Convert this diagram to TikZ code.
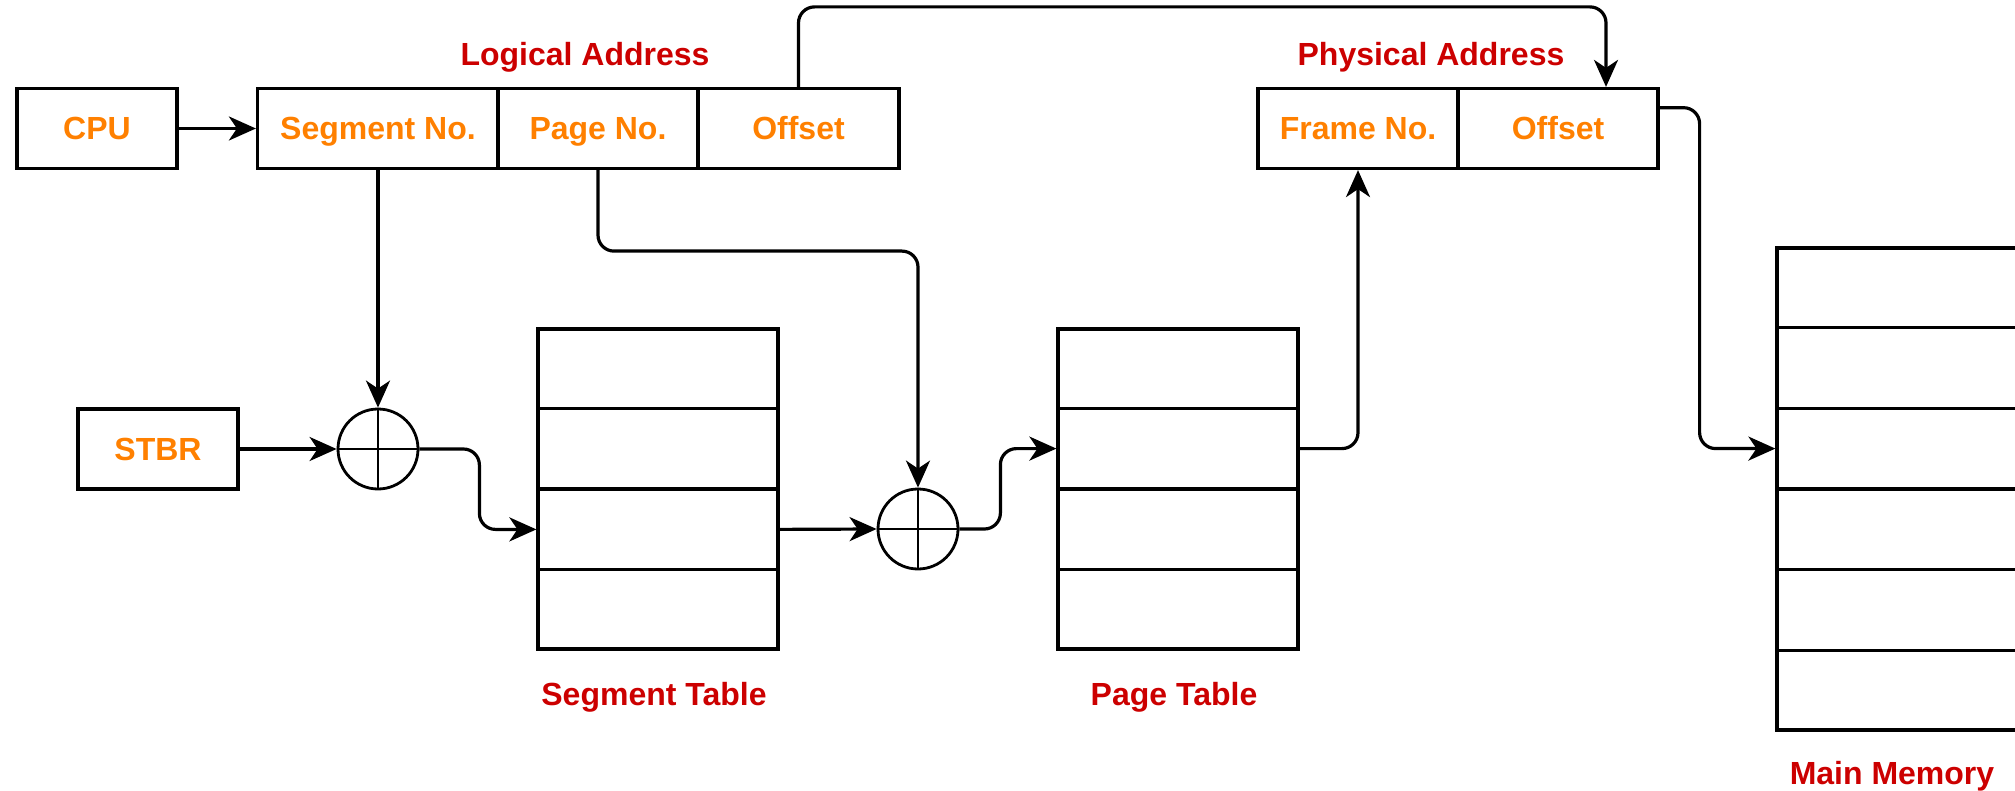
\documentclass[tikz,border=0pt]{standalone}
\usepackage{fontspec}
\setmainfont{Liberation Sans}
\usetikzlibrary{calc,arrows.meta}
\definecolor{lblorange}{HTML}{FF8000}
\definecolor{lblred}{HTML}{CC0000}
\begin{document}
\begin{tikzpicture}[x=1pt,y=-1pt,
  txt/.style={font=\bfseries\fontsize{32}{38}\selectfont, text height=28pt, text depth=5pt},
  field/.style={draw, line width=3.2pt, inner sep=0pt, minimum height=80pt, txt, text=lblorange},
  table/.style={draw, line width=3.2pt, inner sep=0pt, minimum width=240pt},
  adder/.style={draw, circle, line width=2.8pt, minimum size=80pt, inner sep=0pt},
  caption/.style={txt, text=lblred},
  conn/.style={line width=3.2pt, rounded corners=16pt, -{Stealth[length=27pt,width=24pt,inset=8pt]}}
]
\clip (0,0) rectangle (2015,791);

% address fields
\node[field, minimum width=160pt] (cpu) at (97,128.5) {CPU};
\node[field, minimum width=241pt] (seg) at (378,128.5) {Segment No.};
\node[field, minimum width=200pt] (pg) at (598,128.5) {Page No.};
\node[field, minimum width=201pt] (off) at (798.5,128.5) {Offset};
\node[caption] (la) at (585,54) {Logical Address};

\node[field, minimum width=200pt] (frame) at (1358,128.5) {Frame No.};
\node[field, minimum width=200pt] (poff) at (1558,128.5) {Offset};
\node[caption] (pa) at (1431,54) {Physical Address};

\node[field, minimum width=160pt] (stbr) at (158,449) {STBR};

% adders
\node[adder] (add1) at (378,449) {};
\node[adder] (add2) at (918,529) {};
\foreach \a in {add1,add2}{
  \draw[line width=2.6pt] (\a.north) -- (\a.south);
  \draw[line width=2.6pt] (\a.west) -- (\a.east);
}

% tables
\node[table, minimum height=320pt] (segtab) at (658,489) {};
\node[table, minimum height=320pt] (pagetab) at (1178,489) {};
\node[table, minimum height=482pt] (mem) at (1897,489) {};
\foreach \t in {segtab,pagetab}{
  \foreach \i in {1,2,3}{
    \draw[line width=3.2pt] ($(\t.north west)!\i/4!(\t.south west)$) -- ($(\t.north east)!\i/4!(\t.south east)$);
  }
}
\foreach \i in {1,...,5}{
  \draw[line width=3.2pt] ($(mem.north west)!\i/6!(mem.south west)$) -- ($(mem.north east)!\i/6!(mem.south east)$);
}
\node[caption] (segcap) at (654,694) {Segment Table};
\node[caption] (pgcap) at (1174,694) {Page Table};
\node[caption] (memcap) at (1892,773) {Main Memory};

% connector end points on table rows and fields
\coordinate (segin) at ($(segtab.north west)!0.625!(segtab.south west)$);
\coordinate (segout) at ($(segtab.north east)!0.625!(segtab.south east)$);
\coordinate (ptin) at ($(pagetab.north west)!0.375!(pagetab.south west)$);
\coordinate (ptout) at ($(pagetab.north east)!0.375!(pagetab.south east)$);
\coordinate (memin) at ($(mem.north west)!0.4167!(mem.south west)$);
\coordinate (poffin) at ($(poff.north)+(48,0)$);
\coordinate (poffout) at ($(poff.north east)!0.25!(poff.south east)$);

% connectors
\draw[conn] (cpu.east) -- (seg.west);
\draw[conn] (seg.south) -- (add1.north);
\draw[conn] (stbr.east) -- (add1.west);
\draw[conn] (add1.east) -- ++(60,0) |- (segin);
\draw[conn] (pg.south) -- ++(0,81) -| (add2.north);
\draw[conn] (segout) -- (add2.west);
\draw[conn] (add2.east) -- ++(41,0) |- (ptin);
\draw[conn] (ptout) -| (frame.south);
\draw[conn] (off.north) -- ++(0,-80) -| (poffin);
\draw[conn] (poffout) -- ++(40,0) |- (memin);
\end{tikzpicture}
\end{document}
